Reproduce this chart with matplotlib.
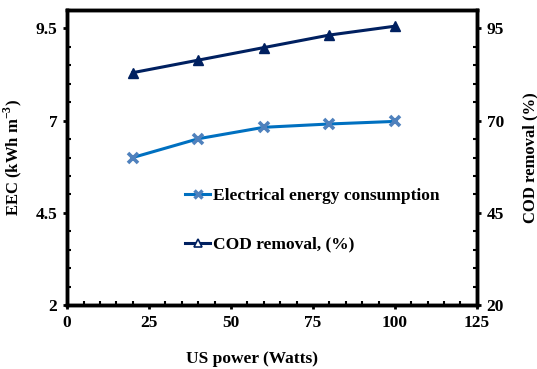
import numpy as np
import matplotlib.pyplot as plt
from matplotlib.lines import Line2D
from matplotlib.ticker import MultipleLocator

plt.rcParams['font.family'] = ['Liberation Serif', 'DejaVu Serif']
plt.rcParams['font.weight'] = 'bold'
plt.rcParams['mathtext.fontset'] = 'custom'
plt.rcParams['mathtext.rm'] = 'Liberation Serif:bold'

# data
power = [20, 40, 60, 80, 100]
eec = [6.0, 6.51, 6.82, 6.91, 6.98]
cod = [83.0, 86.4, 89.8, 93.2, 95.6]

eec_col = '#0070C0'
eec_mk = '#4F81BD'
cod_col = '#002060'

fig, ax = plt.subplots(figsize=(5.37, 3.69), dpi=100)
fig.subplots_adjust(left=0.125, right=0.888, top=0.973, bottom=0.173)
ax2 = ax.twinx()

ax.plot(power, eec, '-', color=eec_col, lw=2.2, marker='x', ms=6.5,
        mec=eec_mk, mew=2.6, zorder=3)
ax2.plot(power, cod, '-', color=cod_col, lw=2.2, marker='^', ms=7,
         mfc=cod_col, mec=cod_col, zorder=3)

ax.set_xlim(0, 125)
ax.set_ylim(2, 10)
ax2.set_ylim(20, 100)
ax.set_xticks([0, 25, 50, 75, 100, 125])
ax.set_yticks([2, 4.5, 7, 9.5])
ax.set_yticklabels(['2', '4.5', '7', '9.5'])
ax2.set_yticks([20, 45, 70, 95])
ax.xaxis.set_minor_locator(MultipleLocator(5))
ax.yaxis.set_minor_locator(MultipleLocator(0.5))
ax2.yaxis.set_minor_locator(MultipleLocator(5))

for a in (ax, ax2):
    for s in a.spines.values():
        s.set_linewidth(2.5)
    a.tick_params(which='major', direction='out', length=3, width=2,
                  labelsize=12.5, pad=4)
    a.tick_params(which='minor', direction='in', length=3, width=1.5)

ax.set_xlabel('US power (Watts)', fontsize=12.5, fontweight='bold')
ax.xaxis.set_label_coords(0.45, -0.155)
ax.set_ylabel(r'EEC (kWh m$^{-3}$)', fontsize=12, fontweight='bold')
ax.yaxis.set_label_coords(-0.105, 0.5)
ax2.set_ylabel('COD removal (%)', fontsize=12, fontweight='bold', labelpad=13)

handles = [
    Line2D([], [], color=eec_col, lw=2.2, marker='x', ms=6, mec=eec_mk, mew=2.5),
    Line2D([], [], color=cod_col, lw=2.2, marker='^', ms=6, mfc='white',
           mec=cod_col, mew=1.2),
]
ax2.legend(handles, ['Electrical energy consumption', 'COD removal, (%)'],
           loc='center left', bbox_to_anchor=(0.288, 0.288), frameon=False,
           handlelength=1.45, handletextpad=0.15, borderpad=0,
           borderaxespad=0, labelspacing=1.9,
           prop={'weight': 'bold', 'size': 12.5})

fig.savefig('out.png', dpi=100)
